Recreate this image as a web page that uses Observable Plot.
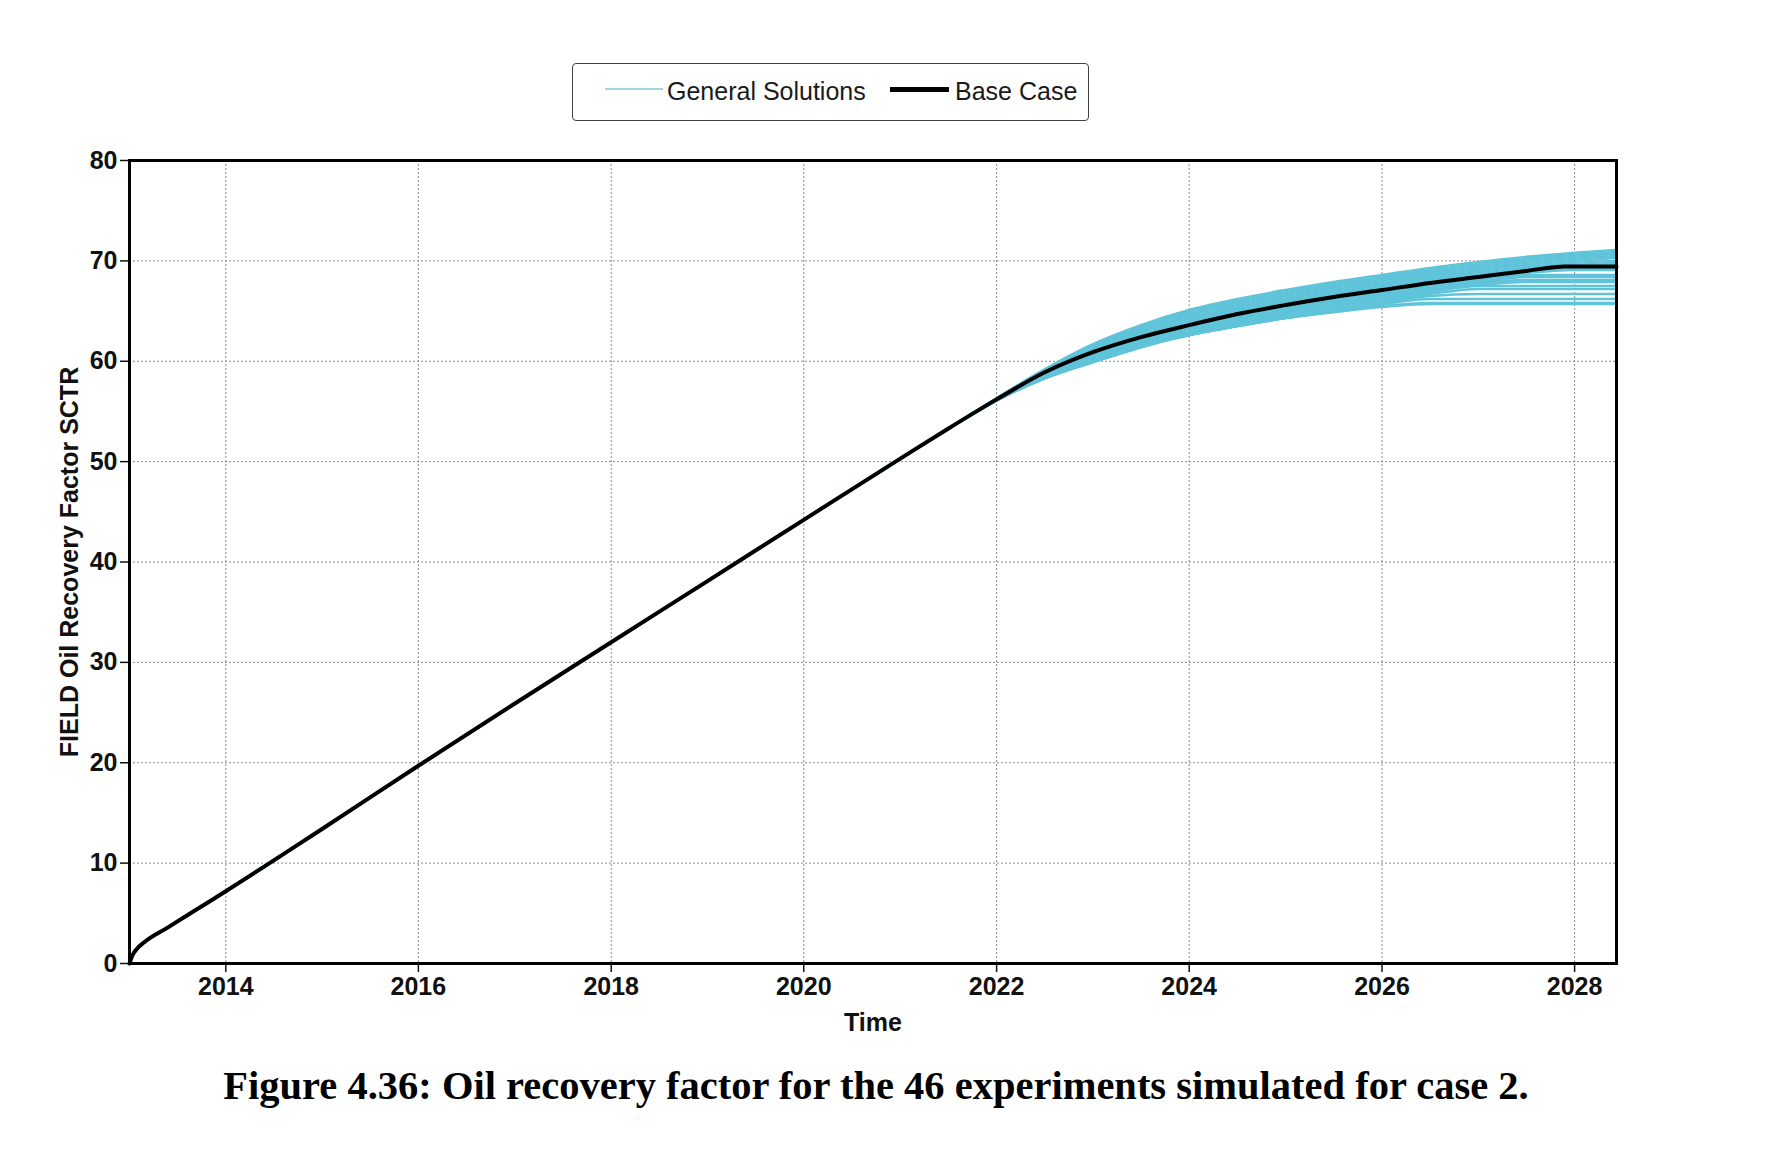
<!DOCTYPE html>
<html>
<head>
<meta charset="utf-8">
<script src="https://cdn.jsdelivr.net/npm/d3@7"></script>
<script src="https://cdn.jsdelivr.net/npm/@observablehq/plot@0.6"></script>
<style>
  html, body { margin: 0; padding: 0; background: #fff; }
  #page { position: relative; width: 1786px; height: 1162px; overflow: hidden; background: #fff; }
  #legendBox { position: absolute; left: 572px; top: 63px; width: 517px; height: 58px; box-sizing: border-box;
               border: 1.5px solid #404040; border-radius: 4px; }
  .lg-text { position: absolute; font-family: "Liberation Sans", Arial, sans-serif; font-size: 25px; line-height: 25px;
             color: #1a1a1a; white-space: nowrap; }
  .lg-swatch { position: absolute; }
  #chart { position: absolute; left: 0; top: 130px; }
  #caption { position: absolute; left: 0; width: 1752px; top: 1066px; text-align: center;
             font-family: "Liberation Serif", "Times New Roman", serif; font-weight: bold; font-size: 40.5px; line-height: 40.5px; color: #000; }
</style>
</head>
<body>
<div id="page">
  <div id="legendBox"></div>
  <div class="lg-swatch" style="left:605px; top:88px; width:58px; height:2px; background:#9fd6e2;"></div>
  <div class="lg-text" id="lg1" style="left:667px; top:78.5px;"></div>
  <div class="lg-swatch" style="left:890px; top:86.5px; width:59px; height:5px; background:#000;"></div>
  <div class="lg-text" id="lg2" style="left:955px; top:78.5px;"></div>
  <div id="chart"></div>
  <div id="caption"></div>
</div>
<script>
// ---- Text ----
const legendLabels = ["General Solutions", "Base Case"];
const xLabel = "Time";
const yLabel = "FIELD Oil Recovery Factor SCTR";
const captionText = "Figure 4.36: Oil recovery factor for the 46 experiments simulated for case 2.";

// ---- Axis ticks ----
const xTickYears = [2014, 2016, 2018, 2020, 2022, 2024, 2026, 2028];
const yTicks = [0, 10, 20, 30, 40, 50, 60, 70, 80];
const xDomainYears = [2013.0, 2028.434];

// ---- Base case (decimal year, recovery factor %) ----
const baseYears  = [2013.00, 2013.03, 2013.08, 2013.15, 2013.4, 2013.7, 2014.0, 2015.0, 2016.0, 2017.0, 2018.0, 2019.0, 2020.0, 2021.0, 2021.5,
                    2022.0, 2022.5, 2023.0, 2023.5, 2024.0, 2024.5, 2025.0, 2025.5, 2026.0, 2026.5, 2027.0, 2027.5, 2027.9, 2028.434];
const baseValues = [0, 0.8, 1.5, 2.1, 3.6, 5.4, 7.2, 13.4, 19.7, 25.9, 32.0, 38.1, 44.2, 50.3, 53.3,
                    56.2, 58.9, 60.9, 62.4, 63.6, 64.7, 65.6, 66.4, 67.1, 67.8, 68.4, 69.0, 69.45, 69.45];

// ---- General solutions: identical to base case before 2022, then diverge ----
const solutionYears = [2022.0, 2022.5, 2023.0, 2023.5, 2024.0, 2024.5, 2025.0, 2025.5, 2026.0, 2026.5, 2027.0, 2027.5, 2028.0, 2028.434];
const sol01 = [56.3, 59.2, 61.7, 63.6, 65.1, 66.2, 67.1, 67.9, 68.6, 69.3, 69.9, 70.4, 70.8, 71.1];
const sol02 = [56.3, 59.2, 61.6, 63.5, 64.9, 66.0, 66.9, 67.7, 68.4, 69.1, 69.7, 70.2, 70.6, 70.9];
const sol03 = [56.3, 59.1, 61.5, 63.3, 64.7, 65.8, 66.7, 67.5, 68.2, 68.9, 69.5, 70.0, 70.4, 70.7];
const sol04 = [56.3, 59.1, 61.4, 63.2, 64.6, 65.6, 66.5, 67.3, 68.0, 68.7, 69.3, 69.8, 70.2, 70.5];
const sol05 = [56.2, 59.0, 61.3, 63.0, 64.4, 65.4, 66.3, 67.1, 67.8, 68.5, 69.1, 69.6, 70.0, 70.3];
const sol06 = [56.2, 59.0, 61.2, 62.9, 64.2, 65.2, 66.1, 66.9, 67.6, 68.3, 68.9, 69.4, 69.8, 70.0];
const sol07 = [56.2, 58.9, 61.1, 62.7, 64.0, 65.0, 65.9, 66.7, 67.4, 68.1, 68.7, 69.2, 69.6, 69.8];
const sol08 = [56.2, 58.9, 61.0, 62.6, 63.8, 64.9, 65.8, 66.6, 67.3, 67.9, 68.5, 69.1, 69.5, 69.6];
const sol09 = [56.2, 58.8, 60.9, 62.4, 63.6, 64.6, 65.5, 66.3, 67.0, 67.7, 68.3, 68.9, 69.2, 69.2];
const sol10 = [56.2, 58.7, 60.7, 62.2, 63.4, 64.4, 65.3, 66.1, 66.8, 67.5, 68.2, 68.8, 69.1, 69.1];
const sol11 = [56.2, 58.7, 60.6, 62.1, 63.3, 64.3, 65.2, 66.0, 66.7, 67.4, 68.1, 68.6, 68.6, 68.6];
const sol12 = [56.1, 58.6, 60.5, 62.0, 63.2, 64.2, 65.0, 65.8, 66.5, 67.2, 67.9, 68.4, 68.4, 68.4];
const sol13 = [56.1, 58.6, 60.4, 61.9, 63.1, 64.0, 64.9, 65.7, 66.4, 67.1, 67.8, 68.1, 68.1, 68.1];
const sol14 = [56.1, 58.5, 60.3, 61.8, 62.9, 63.9, 64.8, 65.6, 66.3, 67.0, 67.6, 67.9, 67.9, 67.9];
const sol15 = [56.1, 58.5, 60.2, 61.7, 62.8, 63.8, 64.7, 65.5, 66.2, 66.9, 67.5, 67.5, 67.5, 67.5];
const sol16 = [56.1, 58.4, 60.1, 61.6, 62.8, 63.7, 64.6, 65.3, 66.0, 66.7, 67.2, 67.2, 67.2, 67.2];
const sol17 = [56.1, 58.4, 60.0, 61.5, 62.7, 63.6, 64.4, 65.1, 65.8, 66.5, 66.7, 66.7, 66.7, 66.7];
const sol18 = [56.1, 58.3, 60.0, 61.5, 62.6, 63.5, 64.3, 65.0, 65.7, 66.2, 66.2, 66.2, 66.2, 66.2];
const sol19 = [56.1, 58.3, 59.9, 61.4, 62.6, 63.5, 64.3, 64.9, 65.5, 65.8, 65.8, 65.8, 65.8, 65.8];
const sol20 = [56.1, 58.3, 59.9, 61.4, 62.6, 63.5, 64.3, 64.9, 65.4, 65.7, 65.7, 65.7, 65.7, 65.7];
const solutions = [sol01, sol02, sol03, sol04, sol05, sol06, sol07, sol08, sol09, sol10,
                   sol11, sol12, sol13, sol14, sol15, sol16, sol17, sol18, sol19, sol20];

// ---- Helpers ----
function toDate(y) {
  const yr = Math.floor(y);
  const s = Date.UTC(yr, 0, 1), e = Date.UTC(yr + 1, 0, 1);
  return new Date(s + (y - yr) * (e - s));
}

const baseRows = baseYears.map((t, i) => ({date: toDate(t), value: baseValues[i]}));
const prefix = baseRows.filter((d, i) => baseYears[i] < solutionYears[0]);
const solutionRows = [];
solutions.forEach((vals, k) => {
  prefix.forEach(d => solutionRows.push({run: k, date: d.date, value: d.value}));
  solutionYears.forEach((t, i) => solutionRows.push({run: k, date: toDate(t), value: vals[i]}));
});
const xTicks = xTickYears.map(y => toDate(y));

document.getElementById("lg1").textContent = legendLabels[0];
document.getElementById("lg2").textContent = legendLabels[1];
document.getElementById("caption").textContent = captionText;

const chart = Plot.plot({
  width: 1786,
  height: 920,
  marginTop: 30,
  marginBottom: 87,
  marginLeft: 129,
  marginRight: 170,
  style: {fontFamily: "'Liberation Sans', Arial, sans-serif", fontSize: "25px", fontWeight: "bold", color: "#111", background: "transparent", overflow: "visible"},
  x: {type: "utc", domain: xDomainYears.map(toDate)},
  y: {domain: [0, 80]},
  marks: [
    Plot.gridX(xTicks, {stroke: "#8a8a8a", strokeOpacity: 1, strokeWidth: 1, strokeDasharray: "2,2"}),
    Plot.gridY(yTicks, {stroke: "#8a8a8a", strokeOpacity: 1, strokeWidth: 1, strokeDasharray: "2,2"}),
    Plot.line(solutionRows, {x: "date", y: "value", z: "run", stroke: "#5fc4da", strokeWidth: 2.5, curve: "monotone-x"}),
    Plot.line(baseRows, {x: "date", y: "value", stroke: "#000", strokeWidth: 4, curve: "monotone-x"}),
    Plot.axisX(xTicks, {tickSize: 9, tickPadding: 5, strokeWidth: 1.5, tickFormat: d3.utcFormat("%Y"),
      label: xLabel, labelAnchor: "center", labelOffset: 67, labelArrow: "none"}),
    Plot.axisY(yTicks, {tickSize: 9, tickPadding: 3, strokeWidth: 1.5,
      label: yLabel, labelAnchor: "center", labelOffset: 69, labelArrow: "none"}),
    Plot.frame({stroke: "#000", strokeWidth: 3})
  ]
});
document.getElementById("chart").appendChild(chart);
</script>
</body>
</html>
